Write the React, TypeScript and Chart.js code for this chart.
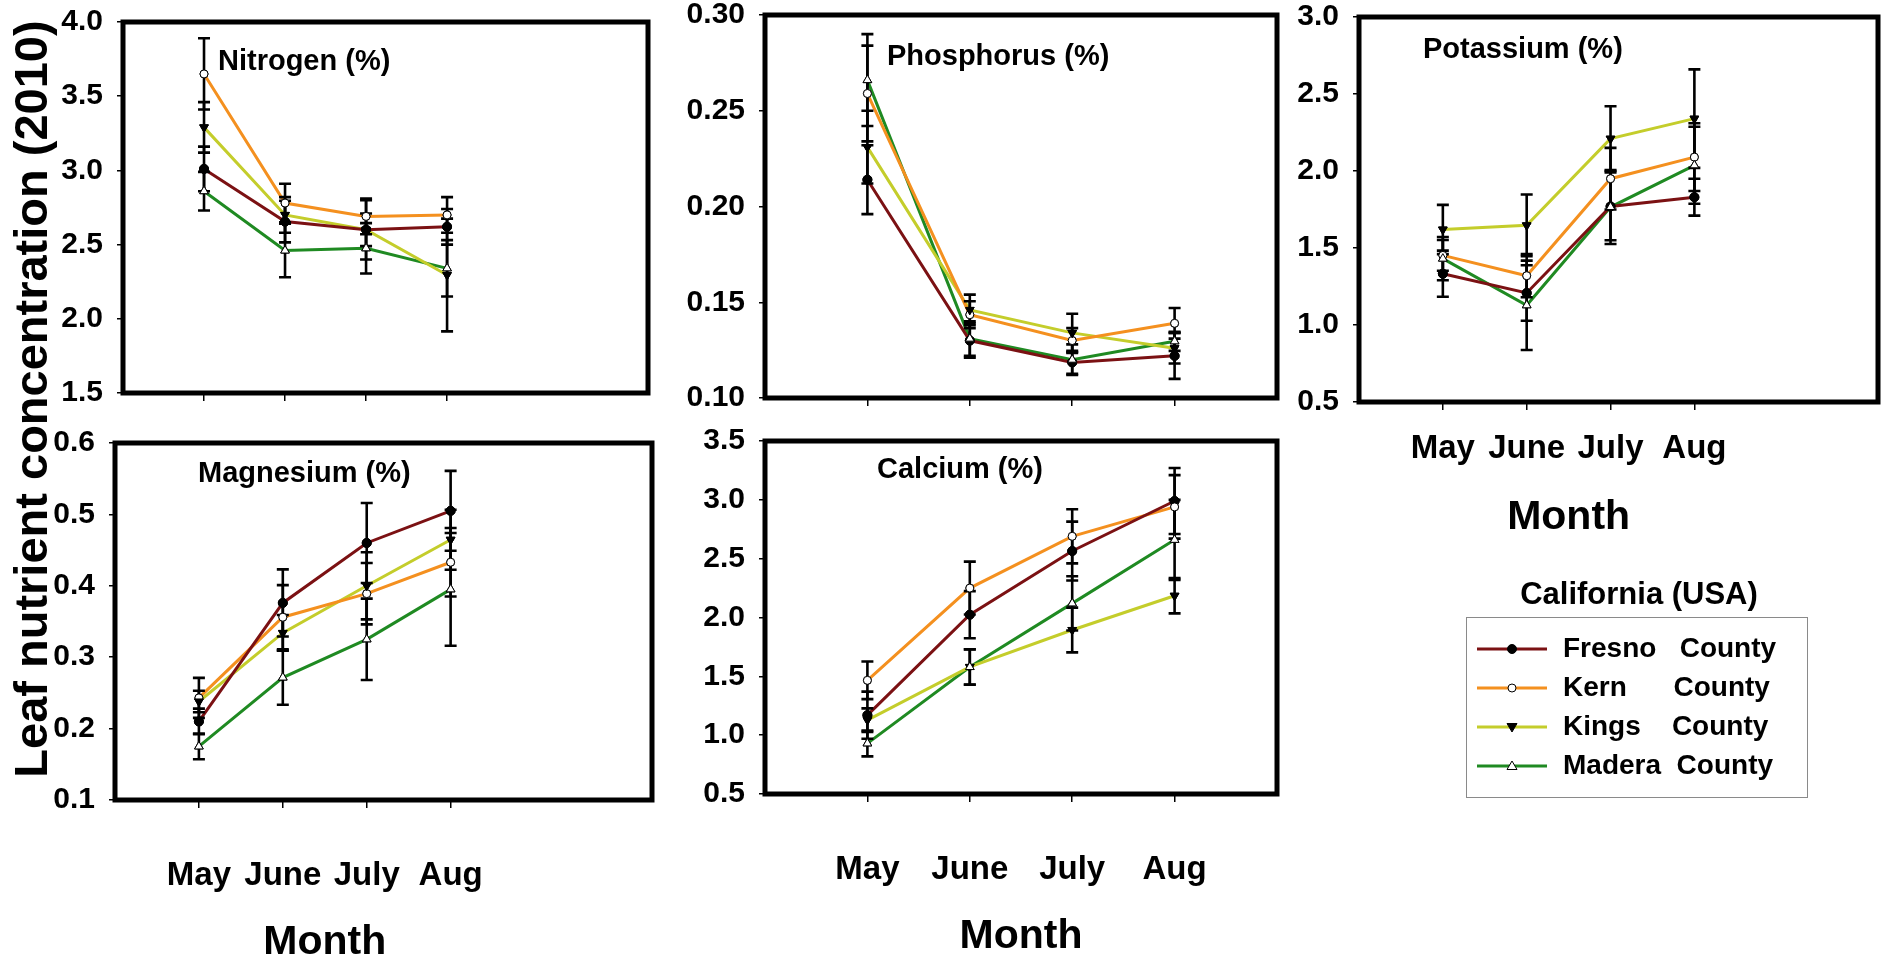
import React, { useEffect, useRef } from 'react';
import { Chart, registerables } from 'chart.js';

Chart.register(...registerables);

// ---------- data ----------
const MONTHS = ['May', 'June', 'July', 'Aug'];
const COUNTIES = ['Fresno', 'Kern', 'Kings', 'Madera'];
const LEGEND_LABELS = ['Fresno   County', 'Kern      County', 'Kings    County', 'Madera  County'];

// rows: Fresno, Kern, Kings, Madera ; columns: May, June, July, Aug
const NITROGEN_MEAN = [
  [3.01, 2.655, 2.6, 2.62],
  [3.65, 2.78, 2.69, 2.7],
  [3.29, 2.7, 2.6, 2.295],
  [2.86, 2.46, 2.475, 2.34],
];
const NITROGEN_ERR = [
  [0.15, 0.14, 0.2, 0.12],
  [0.24, 0.13, 0.12, 0.12],
  [0.17, 0.12, 0.11, 0.38],
  [0.13, 0.18, 0.17, 0.19],
];

const PHOSPHORUS_MEAN = [
  [0.214, 0.13, 0.1186, 0.122],
  [0.259, 0.1435, 0.13, 0.139],
  [0.231, 0.146, 0.134, 0.126],
  [0.266, 0.131, 0.12, 0.1296],
];
const PHOSPHORUS_ERR = [
  [0.018, 0.009, 0.006, 0.012],
  [0.025, 0.007, 0.0065, 0.008],
  [0.019, 0.008, 0.01, 0.008],
  [0.024, 0.009, 0.008, 0.005],
];

const POTASSIUM_MEAN = [
  [1.333, 1.208, 1.77, 1.83],
  [1.452, 1.32, 1.95, 2.09],
  [1.62, 1.647, 2.21, 2.34],
  [1.431, 1.128, 1.766, 2.037],
];
const POTASSIUM_ERR = [
  [0.15, 0.18, 0.22, 0.12],
  [0.1, 0.14, 0.2, 0.22],
  [0.16, 0.2, 0.21, 0.32],
  [0.14, 0.29, 0.24, 0.25],
];

const MAGNESIUM_MEAN = [
  [0.21, 0.376, 0.46, 0.505],
  [0.243, 0.356, 0.389, 0.433],
  [0.238, 0.334, 0.4, 0.4645],
  [0.175, 0.2715, 0.325, 0.395],
];
const MAGNESIUM_ERR = [
  [0.018, 0.047, 0.056, 0.056],
  [0.028, 0.045, 0.043, 0.048],
  [0.015, 0.025, 0.047, 0.042],
  [0.018, 0.038, 0.057, 0.079],
];

const CALCIUM_MEAN = [
  [1.17, 2.024, 2.565, 2.99],
  [1.466, 2.25, 2.69, 2.94],
  [1.128, 1.58, 1.894, 2.185],
  [0.93, 1.579, 2.12, 2.66],
];
const CALCIUM_ERR = [
  [0.2, 0.2, 0.25, 0.28],
  [0.16, 0.225, 0.23, 0.27],
  [0.1, 0.15, 0.19, 0.15],
  [0.11, 0.15, 0.23, 0.34],
];

// ---------- styles ----------
const COLORS = ['#7b1113', '#f4901f', '#c4cd2b', '#1f8a22'];
const POINT_STYLE = ['circle', 'circle', 'triangle', 'triangle'];
const POINT_ROT = [0, 0, 180, 0];
const POINT_FILL = ['#000', '#fff', '#000', '#fff'];
const POINT_R = [4.5, 4, 5, 5];

const FONT = '"Liberation Sans", Arial, Helvetica, sans-serif';
const W = 1884;
const H = 961;

type Panel = {
  title: string;
  mean: number[][];
  err: number[][];
  L: number; R: number; T: number; B: number;
  xmax: number;
  ymin: number; ymax: number; step: number; dec: number;
  showX: boolean;
  tdx: number; tdy: number;
  labPad: number; monthDy: number;
};

const PANELS: Panel[] = [
  { title: 'Nitrogen (%)', mean: NITROGEN_MEAN, err: NITROGEN_ERR, L: 123, R: 648, T: 22, B: 393, xmax: 6.48, ymin: 1.5, ymax: 4.0, step: 0.5, dec: 1, showX: false, tdx: 95, tdy: 48, labPad: 16, monthDy: 124 },
  { title: 'Phosphorus (%)', mean: PHOSPHORUS_MEAN, err: PHOSPHORUS_ERR, L: 765, R: 1277, T: 15, B: 398, xmax: 5, ymin: 0.1, ymax: 0.3, step: 0.05, dec: 2, showX: false, tdx: 122, tdy: 50, labPad: 16, monthDy: 124 },
  { title: 'Potassium (%)', mean: POTASSIUM_MEAN, err: POTASSIUM_ERR, L: 1359, R: 1879, T: 17, B: 402, xmax: 6.19, ymin: 0.5, ymax: 3.0, step: 0.5, dec: 1, showX: true, tdx: 64, tdy: 41, labPad: 19, monthDy: 127 },
  { title: 'Magnesium (%)', mean: MAGNESIUM_MEAN, err: MAGNESIUM_ERR, L: 115, R: 652, T: 443, B: 800, xmax: 6.4, ymin: 0.1, ymax: 0.6, step: 0.1, dec: 1, showX: true, tdx: 83, tdy: 39, labPad: 48, monthDy: 154 },
  { title: 'Calcium (%)', mean: CALCIUM_MEAN, err: CALCIUM_ERR, L: 765, R: 1277, T: 441, B: 794, xmax: 5, ymin: 0.5, ymax: 3.5, step: 0.5, dec: 1, showX: true, tdx: 112, tdy: 37, labPad: 48, monthDy: 154 },
];

const YW = 100;

function buildChart(canvas: HTMLCanvasElement, p: Panel) {
  const XH = p.showX ? 160 : 10;
  const datasets = COUNTIES.map((name, i) => ({
    label: name,
    data: p.mean[i].map((v, j) => ({ x: j + 1, y: v })),
    errors: p.err[i],
    borderColor: COLORS[i],
    backgroundColor: COLORS[i],
    borderWidth: 3,
    pointStyle: POINT_STYLE[i],
    rotation: POINT_ROT[i],
    pointRadius: POINT_R[i],
    pointBackgroundColor: POINT_FILL[i],
    pointBorderColor: '#000',
    pointBorderWidth: 1,
    tension: 0,
    fill: false,
  }));

  const deco = {
    id: 'deco',
    afterDatasetsDraw(chart: any) {
      const ctx = chart.ctx;
      const xs = chart.scales.x;
      const ys = chart.scales.y;
      const a = chart.chartArea;
      ctx.save();
      // error bars
      ctx.strokeStyle = '#000';
      ctx.lineWidth = 2.6;
      chart.data.datasets.forEach((ds: any) => {
        ds.data.forEach((pt: any, j: number) => {
          const e = ds.errors[j];
          const x = xs.getPixelForValue(pt.x);
          const y1 = ys.getPixelForValue(pt.y + e);
          const y2 = ys.getPixelForValue(pt.y - e);
          ctx.beginPath();
          ctx.moveTo(x, y1);
          ctx.lineTo(x, y2);
          ctx.moveTo(x - 6, y1);
          ctx.lineTo(x + 6, y1);
          ctx.moveTo(x - 6, y2);
          ctx.lineTo(x + 6, y2);
          ctx.stroke();
        });
      });
      // markers on top
      chart.data.datasets.forEach((_: any, i: number) => {
        const meta = chart.getDatasetMeta(i);
        meta.data.forEach((el: any) => el.draw(ctx, a));
      });
      // frame
      ctx.lineWidth = 5;
      ctx.strokeStyle = '#000';
      ctx.strokeRect(a.left, a.top, a.right - a.left, a.bottom - a.top);
      // panel title
      ctx.fillStyle = '#000';
      ctx.font = `bold 29px ${FONT}`;
      ctx.textAlign = 'left';
      ctx.textBaseline = 'alphabetic';
      ctx.fillText(p.title, a.left + p.tdx, a.top + p.tdy);
      // axis title
      if (p.showX) {
        const cx = (xs.getPixelForValue(1) + xs.getPixelForValue(MONTHS.length)) / 2;
        ctx.font = `bold 41px ${FONT}`;
        ctx.textAlign = 'center';
        ctx.fillText('Month', cx, a.bottom + p.monthDy);
      }
      ctx.restore();
    },
  };

  return new Chart(canvas, {
    type: 'line',
    data: { datasets } as any,
    plugins: [deco],
    options: {
      responsive: false,
      animation: false,
      events: [],
      layout: {
        padding: { left: p.L - YW, right: W - p.R, top: p.T, bottom: Math.max(0, H - p.B - XH) },
      },
      plugins: { legend: { display: false }, tooltip: { enabled: false } },
      scales: {
        x: {
          type: 'linear',
          min: 0,
          max: p.xmax,
          afterBuildTicks: (s: any) => {
            s.ticks = MONTHS.map((_, i) => ({ value: i + 1 }));
          },
          afterFit: (s: any) => {
            s.height = Math.min(XH, H - p.B);
            s.paddingLeft = 0; s.paddingRight = 0; s.paddingTop = 0; s.paddingBottom = 0;
          },
          ticks: {
            display: p.showX,
            autoSkip: false,
            maxRotation: 0,
            padding: p.labPad,
            color: '#000',
            font: { family: FONT, size: 33, weight: 'bold' },
            callback: (v: any) => MONTHS[Math.round(v) - 1] ?? '',
          },
          grid: { drawOnChartArea: false, drawTicks: true, tickLength: 8, color: '#000', lineWidth: 1.5 },
          border: { display: false },
        },
        y: {
          type: 'linear',
          min: p.ymin,
          max: p.ymax,
          afterFit: (s: any) => {
            s.width = YW;
            s.paddingLeft = 0; s.paddingRight = 0; s.paddingTop = 0; s.paddingBottom = 0;
          },
          ticks: {
            stepSize: p.step,
            padding: 14,
            color: '#000',
            font: { family: FONT, size: 30, weight: 'bold' },
            callback: (v: any) => Number(v).toFixed(p.dec),
          },
          grid: { drawOnChartArea: false, drawTicks: true, tickLength: 6, color: '#000', lineWidth: 1.5 },
          border: { display: false },
        },
      },
    } as any,
  });
}

function PanelCanvas({ panel }: { panel: Panel }) {
  const ref = useRef<HTMLCanvasElement | null>(null);
  useEffect(() => {
    if (!ref.current) return;
    const c = buildChart(ref.current, panel);
    return () => c.destroy();
  }, [panel]);
  return (
    <canvas
      ref={ref}
      width={W}
      height={H}
      style={{ position: 'absolute', left: 0, top: 0, width: W, height: H }}
    />
  );
}

function LegendMarker({ i }: { i: number }) {
  const cx = 35;
  const cy = 10;
  let marker: React.ReactNode;
  if (POINT_STYLE[i] === 'circle') {
    marker = <circle cx={cx} cy={cy} r={POINT_R[i]} fill={POINT_FILL[i]} stroke="#000" strokeWidth={1} />;
  } else if (POINT_ROT[i] === 180) {
    marker = <polygon points={`${cx - 5},${cy - 3.5} ${cx + 5},${cy - 3.5} ${cx},${cy + 5}`} fill="#000" stroke="#000" strokeWidth={1} />;
  } else {
    marker = <polygon points={`${cx - 5},${cy + 3.5} ${cx + 5},${cy + 3.5} ${cx},${cy - 5}`} fill="#fff" stroke="#000" strokeWidth={1} />;
  }
  return (
    <svg width={70} height={20} style={{ position: 'absolute', left: 0, top: -10 }}>
      <line x1={0} y1={cy} x2={70} y2={cy} stroke={COLORS[i]} strokeWidth={3.2} />
      {marker}
    </svg>
  );
}

export default function App() {
  useEffect(() => {
    document.body.style.margin = '0';
  }, []);
  const text: React.CSSProperties = { fontFamily: FONT, fontWeight: 'bold', color: '#000', position: 'absolute', whiteSpace: 'pre' };
  const rows = [649, 688, 727, 766];
  return (
    <div style={{ position: 'absolute', left: 0, top: 0, width: W, height: H, background: '#fff', overflow: 'hidden' }}>
      {PANELS.map((p) => (
        <PanelCanvas key={p.title} panel={p} />
      ))}
      {/* shared y-axis title */}
      <div
        style={{
          ...text,
          left: 31 - 450,
          top: 399 - 30,
          width: 900,
          height: 60,
          lineHeight: '60px',
          fontSize: 47,
          textAlign: 'center',
          transform: 'rotate(-90deg)',
        }}
      >
        Leaf nutrient concentration (2010)
      </div>
      {/* legend */}
      <div style={{ ...text, left: 1639 - 200, top: 575, width: 400, textAlign: 'center', fontSize: 31, lineHeight: '38px' }}>
        California (USA)
      </div>
      <div style={{ position: 'absolute', left: 1466, top: 617, width: 342, height: 181, border: '1.5px solid #8a8a8a', boxSizing: 'border-box' }} />
      {LEGEND_LABELS.map((lab, i) => (
        <div key={lab} style={{ position: 'absolute', left: 1477, top: rows[i], width: 330, height: 0 }}>
          <LegendMarker i={i} />
          <div style={{ ...text, left: 86, top: -18, fontSize: 28, lineHeight: '34px' }}>{lab}</div>
        </div>
      ))}
    </div>
  );
}
